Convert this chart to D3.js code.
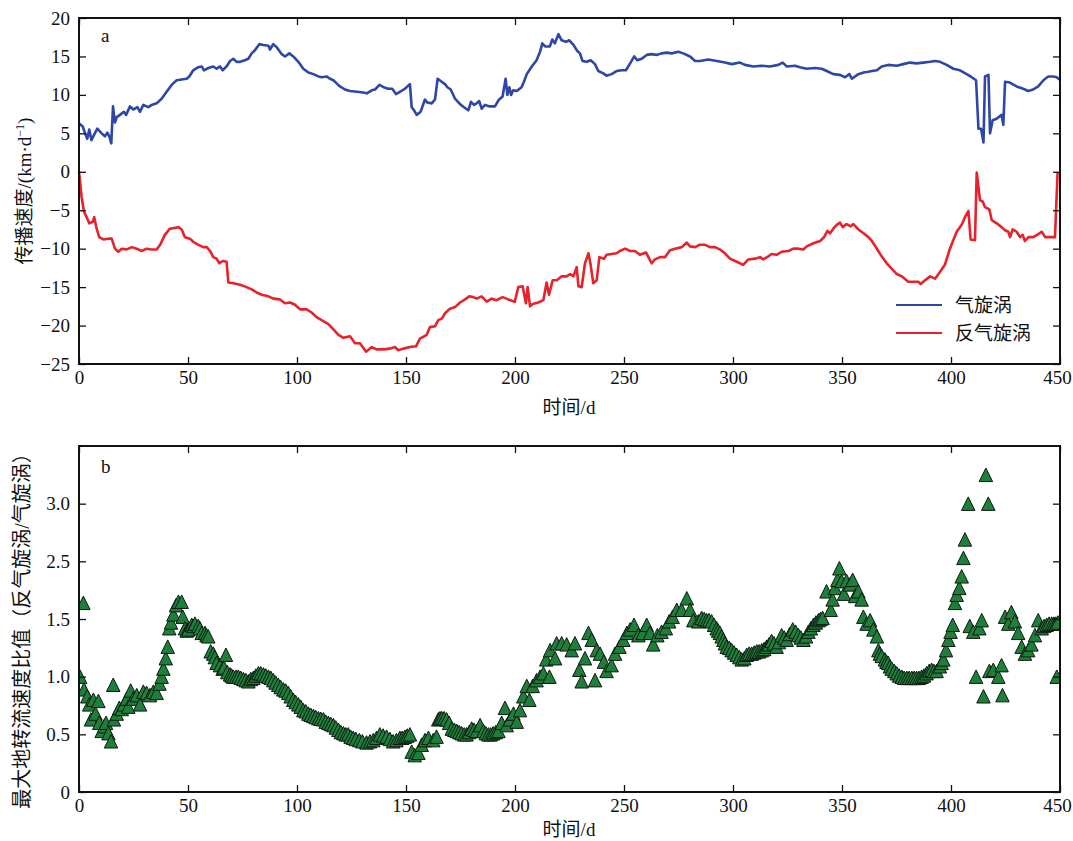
<!DOCTYPE html>
<html>
<head>
<meta charset="utf-8">
<script src="https://cdn.jsdelivr.net/npm/d3@7"></script>
<style>
body{margin:0;background:#fff}
text{font-family:"Liberation Serif","Noto Sans CJK SC",serif;fill:#111}
</style>
</head>
<body>
<svg id="chart"></svg>
<script>
// ---- data ----
var cycDays = [0,1.7,2.8,3.8,4.7,5.7,6.9,8.4,10.4,11.9,13,13.9,14.8,15.6,16.5,17.3,18.8,20.6,21.6,23.4,24.9,26.8,28,29.5,31.8,33.3,35.6,37.9,40.2,42.5,44.8,47.1,49.4,50.6,52.4,54.7,56.3,57.3,59.3,61.6,63.1,64.7,65.9,67.7,69.3,70.8,72.3,73.9,76.1,77.7,79.2,80.7,82.7,84.6,86.9,87.6,89.1,90.7,93,94.5,96.5,98.3,100.6,102.9,105.2,107.5,109.8,111.3,113.6,115.1,116.7,118.2,119.7,122,124.3,127.4,130.4,132,134.3,135.8,137.8,139.7,141.9,143.7,145.4,147.2,149.5,151.8,152.6,153.7,154.9,156.7,158.7,159.8,161.8,163.3,164.5,166.4,167.9,169,170.5,172.5,174.8,176.6,178.6,179.8,181.2,182.4,183.6,184.7,186.2,188.5,190.8,192.4,194.3,195.7,196.5,197.4,198.2,199.2,200.8,203,204.1,205.4,207.7,209.9,211.5,212.5,213.8,216,217.1,218.3,219.9,221.4,223.4,224.9,226.8,228.6,229.8,231,232.9,234.7,236.7,238.2,240.5,242,244.3,246.6,248.9,250.9,252.8,254.7,256.1,258.1,260.4,262.6,264.9,267.2,269.6,271.9,274.9,277.2,280.3,282.6,284.9,288.7,292.5,296.3,299.4,303.2,305.5,309.3,313.1,316.9,320.8,322.8,324.6,328.4,330.7,333.8,337.6,340.7,343,346,349.1,351.4,353.4,354.5,357.5,359.9,362.1,363.7,366,368.2,371.2,375.1,378.1,381.2,384.2,387.3,390.4,392.7,395,398,401.1,404.1,407.2,409.5,411.5,412.6,413.8,414.9,415.6,417.2,417.9,419.1,420.9,423.2,424,424.8,427,430.1,433.1,435.4,437.7,440,442.4,444.6,446.9,448.5,449.7];
var cycSpeed = [6.3,5.9,5.0,4.3,5.5,4.1,4.8,5.6,5.0,4.6,5.1,4.6,3.7,8.5,6.4,7.1,7.4,7.8,7.4,8.5,8.1,8.4,7.8,8.7,8.4,8.7,8.9,9.5,10.4,11.3,11.9,12.0,12.1,12.4,13.2,13.6,13.7,13.2,13.5,13.7,13.4,13.7,13.2,13.7,14.4,14.7,14.3,14.3,14.5,14.7,15.4,15.8,16.6,16.5,16.4,15.9,16.6,16.2,15.3,15.0,15.4,15.0,14.3,13.4,12.9,12.7,12.4,12.3,12.4,12.1,11.9,11.5,11.1,10.7,10.5,10.4,10.3,10.2,10.6,10.7,11.3,11.0,10.8,10.8,10.1,10.4,10.8,11.4,8.4,8.0,7.4,7.8,9.4,9.0,8.9,9.4,12.1,11.7,11.4,11.0,10.7,9.5,8.8,8.4,8.0,9.1,8.7,8.9,9.2,8.2,8.7,8.5,8.5,9.3,9.8,12.1,10.0,11.0,10.0,10.6,10.5,11.0,11.7,12.7,13.7,14.5,15.6,16.7,16.3,16.3,17.2,16.7,17.9,17.1,16.9,17.1,16.5,15.7,15.4,14.4,14.3,14.5,14.0,13.1,12.8,12.5,12.7,13.1,13.2,13.2,14.1,15.0,14.5,14.7,15.2,15.3,15.2,15.4,15.5,15.4,15.6,15.4,15.0,14.4,14.4,14.6,14.4,14.2,14.0,14.2,13.9,13.7,13.8,13.7,13.9,14.2,13.7,13.8,13.6,13.4,13.5,13.4,13.1,12.7,12.6,12.3,12.7,12.1,12.7,12.9,13.0,13.1,13.2,13.7,13.9,13.8,14.0,14.2,14.1,14.2,14.3,14.4,14.3,13.9,13.4,13.2,12.7,12.3,11.9,5.6,5.6,3.8,12.4,12.6,5.0,6.7,6.9,7.4,6.1,11.7,11.6,11.1,10.8,10.5,10.7,11.1,11.9,12.4,12.4,12.3,12.0];

var antiDays = [0,1.2,2.3,3.5,4.7,6.3,7,8.1,9.3,11.2,13.5,15,16.5,18,19.6,21.9,24.2,26.5,28.7,31,33.3,35.6,37.2,39.4,41.7,44,45.6,47.1,48.6,50.9,52.4,54.7,57,58.6,60.1,61.6,63.1,64.4,65.9,67.7,68.5,70.8,73.9,76.9,79.2,81.5,83.8,86.9,89.1,92.2,94.5,96.8,99.1,101.4,104.4,106.7,109,111.3,114.4,116.7,119,121.3,124.3,126.6,128.9,131.7,134.3,136.5,139.6,142.7,144.9,146.5,148.8,151.8,154.6,156.4,159.5,161,163.3,164.8,166.4,167.9,170.2,172.5,174.8,177.1,179,180.9,182.4,184.7,187,189.3,191.6,194.3,196.9,199.9,201.5,203.5,205,205.8,206.9,208.1,210.7,213,214.5,215.6,217.3,219.2,221.4,223.7,225.3,226.8,228.3,229.1,230.6,232.1,233.7,234.7,235.9,237.5,238.7,240.8,242,244.3,246.6,248.1,250.5,252.8,255,257.3,260.1,262.7,264.2,266.5,268.8,271.1,273.4,276.5,278.8,280.3,282.6,284.6,287.2,289.4,291.7,294,296.3,298.6,300.9,303.2,304.7,307,310.1,312.4,313.9,316.2,317.7,320,322.3,325.4,327.7,330,332.3,333.8,336.9,340,341.8,343.3,344.5,346,347.6,349.1,350.3,352.1,354,355.2,357.5,359.9,362.1,363.7,366,368.2,370.5,372.8,375.1,377.4,380.4,382.7,385,386.1,388.1,390.4,392.7,395,397.2,399.5,402.6,404.9,406.4,408,409,411,411.8,413.3,414.6,415.6,417.6,418.7,421,423.2,424.8,426.3,427.1,428.3,430.1,431.7,432.9,433.9,435.5,437.8,440.1,441.6,443.2,447.7,448.9];
var antiSpeed = [0,-3.3,-5.2,-5.9,-6.7,-6.5,-5.9,-7.4,-8.5,-8.8,-8.7,-8.7,-10.0,-10.4,-10.0,-10.1,-9.8,-10.0,-10.3,-10.0,-10.1,-10.1,-9.5,-8.2,-7.4,-7.3,-7.2,-7.5,-8.5,-8.7,-9.1,-9.5,-9.8,-9.8,-10.3,-11.1,-11.3,-11.9,-11.6,-11.7,-14.4,-14.5,-14.7,-15.0,-15.3,-15.7,-16.0,-16.2,-16.5,-16.6,-17.1,-17.0,-17.3,-17.9,-17.9,-18.3,-18.9,-19.3,-19.8,-20.5,-21.2,-21.6,-21.4,-22.3,-22.3,-23.4,-22.8,-23.1,-23.1,-23.0,-22.8,-23.2,-23.0,-22.8,-22.7,-21.7,-21.2,-20.2,-20.1,-19.3,-19.1,-18.4,-17.8,-17.6,-17.0,-16.6,-16.2,-16.3,-16.5,-16.2,-16.9,-16.5,-16.7,-16.3,-16.6,-16.9,-15.0,-14.9,-17.1,-15.0,-17.5,-17.2,-17.0,-16.7,-14.4,-16.0,-14.1,-14.1,-13.6,-13.6,-13.3,-13.6,-12.4,-14.9,-15.0,-11.9,-10.6,-12.1,-14.5,-14.1,-11.1,-11.3,-10.8,-10.7,-10.6,-10.3,-10.0,-10.3,-10.3,-10.8,-10.5,-11.9,-11.4,-11.1,-11.1,-10.2,-10.0,-9.8,-9.2,-9.7,-9.8,-9.5,-9.5,-9.8,-9.8,-10.1,-10.6,-11.3,-11.6,-11.9,-12.1,-11.4,-11.3,-11.1,-11.4,-11.0,-10.7,-10.8,-10.4,-10.3,-10.0,-10.0,-10.1,-9.7,-9.3,-9.0,-8.5,-7.7,-8.0,-7.4,-6.9,-6.6,-7.2,-6.8,-7.1,-6.8,-7.5,-8.0,-8.5,-9.0,-10.0,-11.0,-11.9,-12.6,-13.3,-13.6,-14.3,-14.3,-14.3,-14.6,-14.1,-13.6,-13.9,-13.0,-12.1,-10.0,-7.8,-6.9,-5.9,-5.1,-8.8,-8.9,-0.1,-3.7,-3.9,-4.6,-4.9,-6.3,-6.7,-7.2,-7.6,-7.8,-8.5,-7.5,-7.8,-8.5,-8.2,-9.0,-8.5,-8.5,-8.1,-7.8,-8.5,-8.5,-0.1];

var ratioDays = [0.5,2,2.3,3.8,4.7,5.5,6.6,7.6,8.9,9.3,10.4,11.5,12.4,13.5,14.7,15.7,16,17.3,18.5,19.6,20.6,21.9,22.6,23.7,24.9,26.5,28,29.5,31,32.6,34.1,35.6,36.9,37.9,38.7,39.8,40.7,41.4,42.2,43.3,44.5,45.6,47.1,47.6,48.6,49.4,50.2,51.7,52.4,53.2,54.7,55.5,56.3,57.8,58.5,59.3,60.4,61.6,62.3,63.1,64.7,65.9,66.5,67.4,68,69.3,70,70.8,72,73.1,74.2,75.4,76.5,77.7,78.8,80,81.1,82.3,83.4,84.6,85.7,86.9,88,89.1,90.2,91.4,92.5,93.7,94.8,96,97.1,98.3,99.4,100.6,101.7,102.9,104,105.2,106.3,107.5,108.6,109.8,110.9,112.1,113.2,114.4,115.5,116.7,117.8,119,120.1,121.3,122.4,123.5,124.6,125.8,127,128.6,130,131.9,133.5,135,136.5,138,139.5,141.1,142.6,144.1,145.6,147.2,148.3,149.5,150.6,151.8,152.6,154,155.7,157.2,158.7,160.3,162.5,164,164.8,165.6,166.4,167.5,168.6,169.8,171,172.2,173.3,174.4,175.5,176.7,177.8,179,180.1,181.2,182.4,184,185.5,186.6,187.8,188.9,190,191.2,192.4,193.9,195.4,196.2,197.7,199.3,200.8,202.3,203.8,205.4,206.6,208.1,209.9,211.5,213,214.3,215.8,216.1,218.4,219.1,221.4,223.7,226,227.5,229.5,230.6,232.1,233.7,235.2,236.7,237.5,239,240.8,242,244.3,245.9,247.9,249.7,251.3,252.8,254.6,256.6,258.6,260.4,261.9,263.4,265.3,267.2,269.2,270.7,272.3,274.2,276.4,278.8,280.3,281.8,284.1,285.6,286.8,287.9,289,290.2,291.3,292.5,293.2,294,294.8,295.6,296.3,297.1,298.3,299.4,300.5,301.7,302.9,304,305.2,306.3,307.4,308.6,309.8,310.9,312,313.2,314.3,315.4,316.5,317.7,318.8,320,321.1,322.3,323.5,324.6,326,327.4,328.7,330,331.1,332.3,333.5,334.6,335.7,336.9,338,339.2,340.1,341.1,342.9,344.8,345.7,346.8,347.9,348.8,349.8,350.9,352.1,353.7,354.9,356,357.5,359,359.8,361.3,362.9,364.4,366,366.7,367.4,368.2,369.7,370.4,371.2,372,372.8,374,375.1,376.2,377.4,378.5,379.7,380.8,382,383.1,384.2,385.3,386.5,387.6,388.8,390,391.1,392.2,393.4,394.9,395.7,396.5,397.7,398.8,399.8,400.8,401.8,402.6,403.8,404.9,405.7,406.4,407.9,408.6,410.2,411.5,413,414.1,414.9,416,417.1,417.6,419.4,421.7,423.2,423.6,424.8,426.3,427.7,429.3,430.8,432.4,433.9,435.4,436.9,438.5,440,441.6,442.7,443.9,445,446.2,447.2,448.1,448.5,449];
var ratioValue = [1.0,1.64,0.89,0.83,0.76,0.63,0.8,0.68,0.79,0.6,0.53,0.57,0.6,0.51,0.44,0.93,0.63,0.68,0.73,0.72,0.76,0.81,0.74,0.88,0.81,0.84,0.76,0.87,0.86,0.84,0.87,0.86,0.94,1.0,1.07,1.16,1.26,1.42,1.47,1.54,1.62,1.65,1.65,1.52,1.42,1.4,1.41,1.45,1.44,1.46,1.44,1.42,1.38,1.38,1.36,1.35,1.22,1.2,1.17,1.12,1.1,1.07,1.08,1.19,1.04,1.02,1.01,1.0,1.0,1.0,0.99,0.98,0.97,0.96,0.98,0.99,1.01,1.03,1.03,1.02,1.01,1.0,0.99,0.97,0.95,0.93,0.91,0.89,0.88,0.86,0.83,0.8,0.78,0.76,0.74,0.71,0.7,0.68,0.67,0.66,0.65,0.64,0.635,0.63,0.61,0.6,0.59,0.58,0.56,0.54,0.52,0.51,0.5,0.5,0.48,0.47,0.46,0.45,0.44,0.43,0.44,0.45,0.47,0.5,0.49,0.48,0.46,0.44,0.45,0.47,0.47,0.48,0.49,0.5,0.35,0.32,0.34,0.41,0.45,0.47,0.45,0.48,0.63,0.64,0.64,0.64,0.63,0.6,0.55,0.54,0.53,0.52,0.51,0.5,0.5,0.52,0.55,0.54,0.53,0.58,0.53,0.51,0.5,0.5,0.51,0.52,0.53,0.6,0.73,0.58,0.63,0.68,0.61,0.71,0.83,0.92,0.8,0.92,0.97,1.0,1.03,1.15,1.0,1.23,1.16,1.29,1.29,1.28,1.23,1.29,1.06,0.96,1.16,1.38,1.32,0.97,1.23,1.2,1.13,1.05,1.1,1.2,1.26,1.32,1.38,1.41,1.45,1.36,1.38,1.45,1.38,1.28,1.36,1.39,1.42,1.48,1.52,1.58,1.58,1.68,1.58,1.49,1.48,1.51,1.5,1.49,1.49,1.48,1.45,1.42,1.4,1.38,1.35,1.32,1.29,1.26,1.25,1.23,1.21,1.19,1.17,1.15,1.16,1.19,1.2,1.2,1.21,1.22,1.22,1.23,1.24,1.26,1.28,1.31,1.29,1.26,1.3,1.36,1.34,1.32,1.37,1.41,1.39,1.36,1.34,1.32,1.35,1.39,1.42,1.45,1.47,1.49,1.5,1.51,1.74,1.58,1.67,1.77,1.84,1.94,1.83,1.72,1.83,1.8,1.84,1.7,1.74,1.67,1.52,1.46,1.49,1.41,1.35,1.23,1.2,1.18,1.15,1.13,1.12,1.09,1.07,1.05,1.03,1.01,1.0,0.99,0.99,0.99,0.99,0.99,0.99,0.99,1.0,1.01,1.03,1.05,1.06,1.05,1.05,1.09,1.12,1.15,1.23,1.32,1.39,1.45,1.64,1.71,1.77,1.87,2.03,2.19,2.5,1.44,1.39,1.0,1.42,1.49,0.83,2.75,2.5,1.05,1.06,1.0,1.1,0.84,1.52,1.46,1.56,1.48,1.38,1.26,1.2,1.23,1.28,1.36,1.49,1.42,1.44,1.45,1.46,1.46,1.46,1.46,1.0,1.47];

var dayTicks = [0,50,100,150,200,250,300,350,400,450];
var speedTicks = [20,15,10,5,0,-5,-10,-15,-20,-25];
var ratioTicks = [0,0.5,1,1.5,2,2.5];
var ratioTickLabels = ['0','0.5','1.0','1.5','2.5','3.0']; // as printed in the figure
var seriesNames = ['气旋涡','反气旋涡'];
var seriesColors = ['#2e47a6','#e8222a'];

var W = 1073, H = 841;
var svg = d3.select('#chart').attr('width', W).attr('height', H);

var x = d3.scaleLinear().domain([0,450]).range([79,1060]);
var yA = d3.scaleLinear().domain([-25,20]).range([364,18]);
var yB = d3.scaleLinear().domain([0,3]).range([792,446]);

var tick = 7;

function frame(y, yTicks, yFmt) {
    var y0 = y.range()[0], y1 = y.range()[1];
    var style = g => {
        g.select('.domain').remove();
        g.selectAll('.tick line').attr('stroke', '#111').attr('stroke-width', 1.3);
        g.selectAll('text').style('font-size', '19px').attr('fill', '#111');
    };
    svg.append('g').attr('transform', 'translate(0,' + y0 + ')')
        .call(d3.axisBottom(x).tickValues(dayTicks).tickSize(-tick).tickPadding(7).tickFormat(d => d))
        .call(style)
        .call(g => g.selectAll('.tick text').filter(d => d == 450).attr('dx', -3));
    svg.append('g').attr('transform', 'translate(0,' + y1 + ')')
        .call(d3.axisTop(x).tickValues(dayTicks).tickSize(-tick).tickFormat(''))
        .call(style);
    svg.append('g').attr('transform', 'translate(' + x.range()[0] + ',0)')
        .call(d3.axisLeft(y).tickValues(yTicks).tickSize(-tick).tickPadding(9).tickFormat(yFmt))
        .call(style);
    svg.append('g').attr('transform', 'translate(' + x.range()[1] + ',0)')
        .call(d3.axisRight(y).tickValues(yTicks).tickSize(-tick).tickFormat(''))
        .call(style);
    svg.append('rect')
        .attr('x', x.range()[0]).attr('y', y1)
        .attr('width', x.range()[1] - x.range()[0]).attr('height', y0 - y1)
        .attr('fill', 'none').attr('stroke', '#111').attr('stroke-width', 2);
}

// ---- panel a ----
var line = d3.line().x(d => x(d[0])).y(d => yA(d[1]));
[[cycDays, cycSpeed], [antiDays, antiSpeed]].forEach(function (s, i) {
    svg.append('path')
        .datum(d3.zip(s[0], s[1]))
        .attr('d', line)
        .attr('fill', 'none')
        .attr('stroke', seriesColors[i])
        .attr('stroke-width', 2.6)
        .attr('stroke-linejoin', 'round');
});
frame(yA, speedTicks, d3.format('d'));

svg.append('text').attr('x', 101).attr('y', 42).style('font-size', '19px').text('a');

var lab = svg.append('text')
    .attr('transform', 'translate(31,191) rotate(-90)')
    .attr('text-anchor', 'middle')
    .style('font-size', '19px');
lab.append('tspan').text('传播速度/(km·d');
lab.append('tspan').attr('dy', -7).style('font-size', '12px').text('−1');
lab.append('tspan').attr('dy', 7).text(')');

svg.append('text').attr('x', 569).attr('y', 414).attr('text-anchor', 'middle')
    .style('font-size', '19px').text('时间/d');

// legend
var leg = svg.append('g').attr('transform', 'translate(896,305)');
seriesNames.forEach(function (n, i) {
    leg.append('line').attr('x1', 0).attr('x2', 46).attr('y1', i * 28).attr('y2', i * 28)
        .attr('stroke', seriesColors[i]).attr('stroke-width', 2);
    leg.append('text').attr('x', 59).attr('y', i * 28 + 7).style('font-size', '19px').text(n);
});

// ---- panel b ----
svg.append('clipPath').attr('id', 'clipB').append('rect')
    .attr('x', x.range()[0]).attr('y', yB.range()[1])
    .attr('width', x.range()[1] - x.range()[0]).attr('height', yB.range()[0] - yB.range()[1]);

// matplotlib-like '^' marker: as wide as it is tall, centred on the box
var triUp = {
    draw: function (ctx, size) {
        var r = Math.sqrt(size) / 2;
        ctx.moveTo(0, -r);
        ctx.lineTo(r, r);
        ctx.lineTo(-r, r);
        ctx.closePath();
    }
};
var tri = d3.symbol().type(triUp).size(13.5 * 13.5);
svg.append('g').attr('clip-path', 'url(#clipB)')
    .selectAll('path')
    .data(d3.zip(ratioDays, ratioValue))
    .enter()
    .append('path')
    .attr('transform', d => 'translate(' + x(d[0]) + ',' + yB(d[1]) + ')')
    .attr('d', tri)
    .attr('fill', '#1d7f3a')
    .attr('stroke', '#101a12')
    .attr('stroke-width', 1);

frame(yB, ratioTicks, (d, i) => ratioTickLabels[i]);

svg.append('text').attr('x', 101).attr('y', 473).style('font-size', '19px').text('b');

svg.append('text')
    .attr('transform', 'translate(29,626) rotate(-90)')
    .attr('text-anchor', 'middle')
    .style('font-size', '20px')
    .text('最大地转流速度比值（反气旋涡/气旋涡）');

svg.append('text').attr('x', 569).attr('y', 836).attr('text-anchor', 'middle')
    .style('font-size', '19px').text('时间/d');
</script>
</body>
</html>
